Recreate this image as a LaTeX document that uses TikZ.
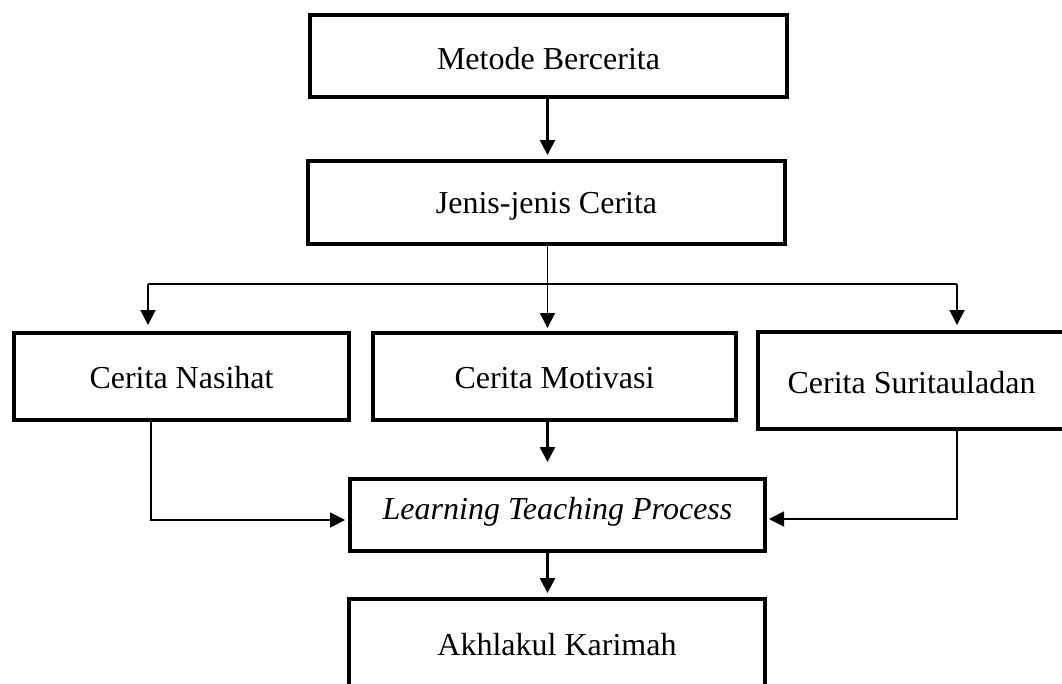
\documentclass[tikz,border=0pt]{standalone}
\usepackage{fontspec}
\setmainfont{Liberation Serif}
\usetikzlibrary{arrows.meta}
\begin{document}
\begin{tikzpicture}[x=1pt,y=-1pt,
  box/.style={draw, line width=4pt, inner sep=0pt, text depth=0pt,
    font=\fontsize{32pt}{38pt}\selectfont},
  tip/.style={-{Triangle[length=15pt,width=15pt]}},
  mainarrow/.style={tip, line width=2.6pt},
  elbow/.style={line width=1.8pt},
  branch/.style={line width=1.5pt}]
\useasboundingbox (0,0) rectangle (1062,683);
\clip (0,0) rectangle (1062,683);
\fill[white] (0,0) rectangle (1062,683);

\node[box, minimum width=477pt, minimum height=82pt, text height=26pt] (metode) at (548.5,56) {Metode Bercerita};
\node[box, minimum width=477pt, minimum height=83pt, text height=21pt] (jenis) at (546.5,202.5) {Jenis-jenis Cerita};
\node[box, minimum width=335pt, minimum height=87pt, text height=23pt] (nasihat) at (181.5,376.5) {Cerita Nasihat};
\node[box, minimum width=363pt, minimum height=87pt, text height=23pt] (motivasi) at (554.5,376.5) {Cerita Motivasi};
\node[box, minimum width=307pt, minimum height=97pt, text height=25pt] (suri) at (911.5,380.5) {Cerita Suritauladan};
\node[box, minimum width=415pt, minimum height=72pt, text height=22pt, text depth=14pt] (ltp) at (557.5,515) {\itshape Learning Teaching Process};
\node[box, minimum width=416pt, minimum height=91pt, text height=21pt] (akhlak) at (557,644.5) {Akhlakul Karimah};

\coordinate (spine) at (547.5,0);
\coordinate (hl) at (148,284);
\coordinate (hr) at (957,284);
\coordinate (jl) at (151,520);
\coordinate (jr) at (957,519);

% metode -> jenis
\draw[mainarrow, shorten >=4pt] (metode.south -| spine) -- (jenis.north -| spine);
% jenis -> motivasi
\draw[tip, line width=1.8pt, shorten >=3pt] (jenis.south -| spine) -- (motivasi.north -| spine);
% branch line
\draw[branch] (hl) -- (hr);
\draw[tip, line width=1.8pt, shorten >=6pt] (hl) -- (hl |- nasihat.north);
\draw[tip, line width=1.8pt, shorten >=5pt] (hr) -- (hr |- suri.north);
% motivasi -> ltp
\draw[mainarrow, shorten >=15pt] (motivasi.south -| spine) -- (ltp.north -| spine);
% nasihat -> ltp
\draw[elbow, tip, shorten >=3pt] (nasihat.south -| jl) -- (jl) -- (jl -| ltp.west);
% suri -> ltp
\draw[elbow, tip, shorten >=2pt] (suri.south -| jr) -- (jr) -- (jr -| ltp.east);
% ltp -> akhlak
\draw[mainarrow, shorten >=4pt] (ltp.south -| spine) -- (akhlak.north -| spine);
\end{tikzpicture}
\end{document}
